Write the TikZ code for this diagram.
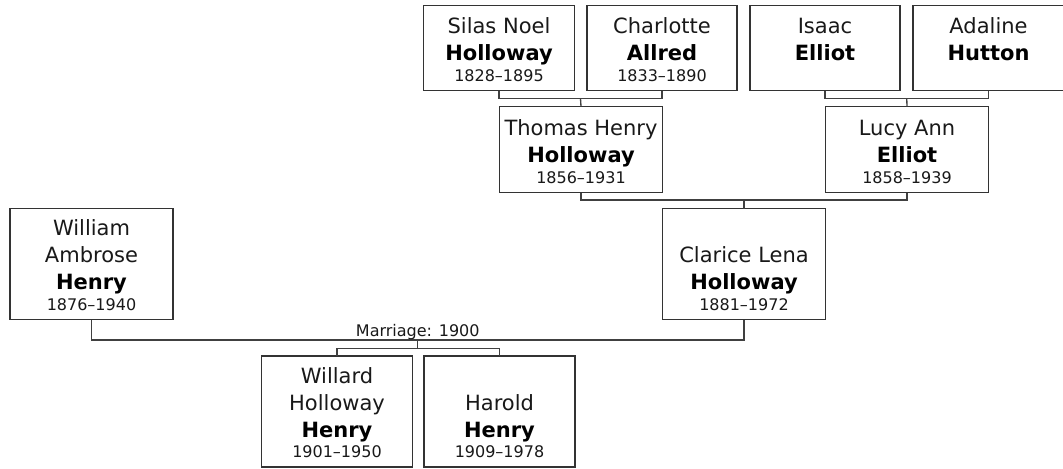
\documentclass[tikz,border=0pt]{standalone}
\usepackage{fontspec}
\setmainfont{DejaVu Sans}
\newcommand\namefont{\fontsize{15.75pt}{19pt}\selectfont}
\newcommand\yearfont{\fontsize{12pt}{14pt}\selectfont}
\tikzset{
  pbox/.style={draw=black!80, line width=1pt, fill=white, inner sep=0pt, outer sep=0pt},
  conn/.style={draw=black!75, line width=1pt},
  nm/.style={font=\namefont, anchor=base, inner sep=0pt, text=black!90},
  bd/.style={font=\namefont\bfseries, anchor=base, inner sep=0pt, text=black},
  yr/.style={font=\yearfont, anchor=base, inner sep=0pt, text=black!90},
}
\newcommand\PYr[2]{\node[yr, yshift=7.125pt] (#1y) at (#1.south) {#2};}
\newcommand\PBd[2]{\node[bd, yshift=22.5pt] (#1b) at (#1.south) {#2};}
\newcommand\PNa[2]{\node[nm, yshift=42.75pt] (#1a) at (#1.south) {#2};}
\newcommand\PNb[2]{\node[nm, yshift=63pt] (#1c) at (#1.south) {#2};}
\begin{document}
\begin{tikzpicture}[x=0.75pt, y=-0.75pt]
\useasboundingbox (0,0) rectangle (1063,468);
\fill[white] (0,0) rectangle (1063,468);

% junction points
\coordinate (gp1) at (580.5,98.7);
\coordinate (gp2) at (906.75,98.7);
\coordinate (par) at (744,200);
\coordinate (mar) at (417.75,340);
\coordinate (kid) at (417.75,348.7);

% boxes
\node[pbox, minimum width=151*0.75pt, minimum height=85*0.75pt] (silas) at (499,48) {};
\node[pbox, minimum width=150*0.75pt, minimum height=85*0.75pt] (charlotte) at (662,48) {};
\node[pbox, minimum width=150*0.75pt, minimum height=85*0.75pt] (isaac) at (825,48) {};
\node[pbox, minimum width=151*0.75pt, minimum height=85*0.75pt] (adaline) at (988.5,48) {};
\node[pbox, minimum width=163*0.75pt, minimum height=86*0.75pt] (thomas) at (581,149.5) {};
\node[pbox, minimum width=163*0.75pt, minimum height=86*0.75pt] (lucy) at (907,149.5) {};
\node[pbox, minimum width=163*0.75pt, minimum height=111*0.75pt] (clarice) at (744,264) {};
\node[pbox, minimum width=163*0.75pt, minimum height=111*0.75pt] (william) at (91.5,264) {};
\node[pbox, minimum width=151*0.75pt, minimum height=111*0.75pt] (willard) at (337,411.5) {};
\node[pbox, minimum width=151*0.75pt, minimum height=111*0.75pt] (harold) at (499.5,411.5) {};

\draw[conn] (silas.south) |- (gp1) -| (charlotte.south);
\draw[conn] (gp1) -- (thomas.north);
\draw[conn] (isaac.south) |- (gp2) -| (adaline.south);
\draw[conn] (gp2) -- (lucy.north);
\draw[conn] (thomas.south) |- (par) -| (lucy.south);
\draw[conn] (par) -- (clarice.north);
\draw[conn] (william.south) |- (mar) -| (clarice.south);
\draw[conn] (mar) -- (kid);
\draw[conn] (willard.north) |- (kid) -| (harold.north);
\node[yr] (marlabel) at (417.75,336) {Marriage: 1900};

% texts
\PNa{silas}{Silas Noel}\PBd{silas}{Holloway}\PYr{silas}{1828–1895}
\PNa{charlotte}{Charlotte}\PBd{charlotte}{Allred}\PYr{charlotte}{1833–1890}
\PNa{isaac}{Isaac}\PBd{isaac}{Elliot}
\PNa{adaline}{Adaline}\PBd{adaline}{Hutton}
\PNa{thomas}{Thomas Henry}\PBd{thomas}{Holloway}\PYr{thomas}{1856–1931}
\PNa{lucy}{Lucy Ann}\PBd{lucy}{Elliot}\PYr{lucy}{1858–1939}
\PNa{clarice}{Clarice Lena}\PBd{clarice}{Holloway}\PYr{clarice}{1881–1972}
\PNb{william}{William}\PNa{william}{Ambrose}\PBd{william}{Henry}\PYr{william}{1876–1940}
\PNb{willard}{Willard}\PNa{willard}{Holloway}\PBd{willard}{Henry}\PYr{willard}{1901–1950}
\PNa{harold}{Harold}\PBd{harold}{Henry}\PYr{harold}{1909–1978}
\end{tikzpicture}
\end{document}
